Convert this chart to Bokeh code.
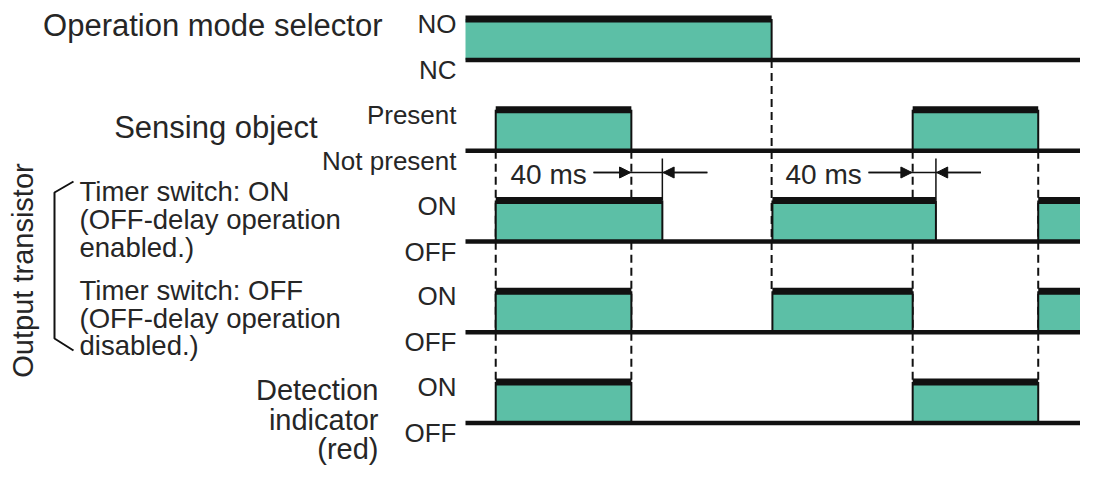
import math
from bokeh.plotting import figure
from bokeh.models import Range1d, Label, Arrow, NormalHead
from bokeh.embed import file_html
from bokeh.resources import INLINE

# ---------------- data (time in ms) ----------------
signal_end = 830
mode_no = [(0, 395)]                                  # operation mode selector at NO
sensing_present = [(39, 214), (577, 739)]             # sensing object present
out_timer_on = [(39, 254), (396, 607), (739, signal_end)]   # output, OFF-delay enabled
out_timer_off = [(39, 214), (396, 577), (739, signal_end)]  # output, OFF-delay disabled
indicator_on = [(39, 214), (577, 739)]                # detection indicator lit
signals = [mode_no, sensing_present, out_timer_on, out_timer_off, indicator_on]

high_labels = ["NO", "Present", "ON", "ON", "ON"]
low_labels = ["NC", "Not present", "OFF", "OFF", "OFF"]
delay_text = "40 ms"
delay_marks = [(214, 254), (577, 607)]                # (object edge, output OFF edge)

# dashed guide lines: (time, from row baseline, to row top)
guides = [(39, 1, 4), (214, 1, 4), (395, 0, 3), (577, 1, 4), (739, 1, 4)]

# ---------------- layout ----------------
W, H = 1080, 465
PX_PER_MS = 0.775
ORIGIN = 465.0                       # px where t = 0
XS = -ORIGIN / PX_PER_MS
XE = XS + W / PX_PER_MS
BASE0, STEP, AMP = 59.5, 90.75, 41.0
TEAL = "#5cbfa6"
INK = "#111111"
TXT = "#262626"
FONT = "Liberation Sans"


def fx(px):  # px -> time
    return (px - ORIGIN) / PX_PER_MS


def fy(py):  # px -> y data (flipped range)
    return py


def base(i):
    return BASE0 + i * STEP


def high(i):
    return base(i) - AMP


p = figure(width=W, height=H, x_range=Range1d(XS, XE), y_range=Range1d(H, 0),
           output_backend="svg", toolbar_location=None, min_border=0,
           x_axis_location=None, y_axis_location=None, outline_line_color=None,
           background_fill_color="white", border_fill_color="white")
p.grid.visible = False

# dashed guides (behind pulses)
for t, r0, r1 in guides:
    p.line([t, t], [base(r0), high(r1)], line_color=INK, line_width=2, line_dash="8 5")

for i, pulses in enumerate(signals):
    b, h = base(i), high(i)
    lefts = [a for a, _ in pulses]
    rights = [c for _, c in pulses]
    p.quad(left=lefts, right=rights, top=[h] * len(pulses), bottom=[b] * len(pulses),
           fill_color=TEAL, line_color=None)
    # vertical edges
    ex = [a for a in lefts if a > 0] + [c for c in rights if c < signal_end]
    p.segment(x0=ex, x1=ex, y0=[h] * len(ex), y1=[b] * len(ex), line_color=INK, line_width=2)
    # top bar
    p.segment(x0=lefts, x1=rights, y0=[h] * len(pulses), y1=[h] * len(pulses),
              line_color=INK, line_width=7, line_cap="butt")
    # baseline
    p.line([0, signal_end], [b, b], line_color=INK, line_width=4.5)

    p.add_layout(Label(x=fx(456), y=h + 5, text=high_labels[i], text_align="right",
                       text_baseline="middle", text_font=FONT, text_font_size="26px",
                       text_color=TXT))
    p.add_layout(Label(x=fx(456), y=b + 10, text=low_labels[i], text_align="right",
                       text_baseline="middle", text_font=FONT, text_font_size="26px",
                       text_color=TXT))

# 40 ms annotations
ay = fy(172)
text_left = [fx(510), fx(785)]
shaft_start = [fx(593), fx(868)]
for k, (t_obj, t_out) in enumerate(delay_marks):
    p.add_layout(Label(x=text_left[k], y=fy(174), text=delay_text, text_align="left",
                       text_baseline="middle", text_font=FONT, text_font_size="28px",
                       text_color=TXT))
    tail = t_out + 45 / PX_PER_MS
    p.line([shaft_start[k], tail], [ay, ay], line_color=INK, line_width=1.5)
    p.add_layout(Arrow(end=NormalHead(size=11, fill_color=INK, line_color=INK, line_width=1),
                       x_start=shaft_start[k], y_start=ay, x_end=t_obj - 1, y_end=ay,
                       line_color=INK, line_width=1.5))
    p.add_layout(Arrow(end=NormalHead(size=11, fill_color=INK, line_color=INK, line_width=1),
                       x_start=tail, y_start=ay, x_end=t_out + 1, y_end=ay,
                       line_color=INK, line_width=1.5))
    p.line([t_out, t_out], [fy(158), high(2)], line_color=INK, line_width=1.5)

# row titles
big = dict(text_font=FONT, text_font_size="31px", text_color=TXT, text_baseline="middle")
p.add_layout(Label(x=fx(382), y=fy(25), text="Operation mode selector", text_align="right", **big))
p.add_layout(Label(x=fx(317), y=fy(127), text="Sensing object", text_align="right", **big))
det = dict(text_font=FONT, text_font_size="29px", text_color=TXT, text_baseline="middle")
for txt, yy in [("Detection", 389), ("indicator", 419), ("(red)", 448)]:
    p.add_layout(Label(x=fx(378), y=fy(yy), text=txt, text_align="right", **det))

small = dict(text_font=FONT, text_font_size="27.5px", text_color=TXT, text_baseline="middle",
             text_align="left")
for txt, yy in [("Timer switch: ON", 191), ("(OFF-delay operation", 219), ("enabled.)", 247),
                ("Timer switch: OFF", 290), ("(OFF-delay operation", 318), ("disabled.)", 345)]:
    p.add_layout(Label(x=fx(79), y=fy(yy), text=txt, **small))

p.add_layout(Label(x=fx(22), y=fy(270), text="Output transistor", angle=math.pi / 2,
                   text_align="center", text_baseline="middle", text_font=FONT,
                   text_font_size="29px", text_color=TXT))

# bracket
p.line([fx(73), fx(54), fx(54), fx(73)], [fy(181), fy(192), fy(338), fy(350)],
       line_color=INK, line_width=2)

open("out.html", "w").write(file_html(p, INLINE))
